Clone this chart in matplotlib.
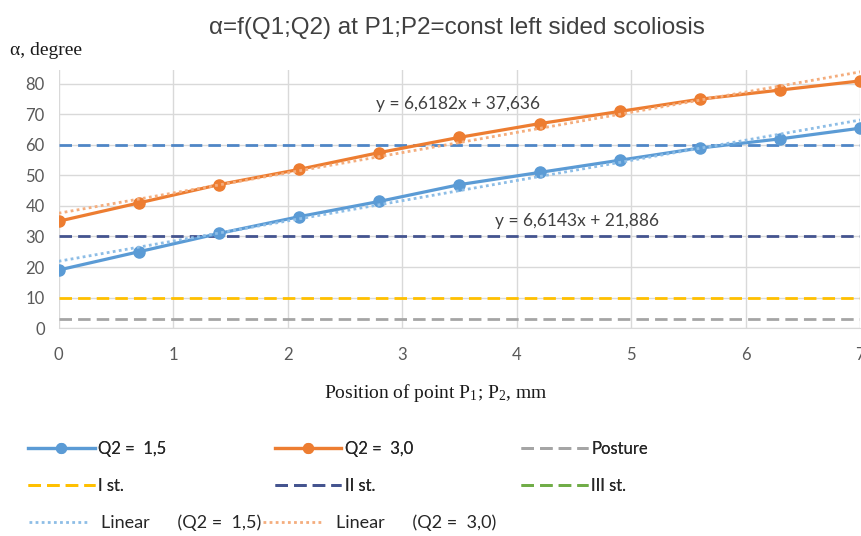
import numpy as np
import matplotlib
matplotlib.use("Agg")
import matplotlib.pyplot as plt
from matplotlib.lines import Line2D

plt.rcParams['mathtext.fontset'] = 'custom'
plt.rcParams['mathtext.rm'] = 'Liberation Serif'
plt.rcParams['mathtext.it'] = 'Liberation Serif'

# data
pos = [0, 0.7, 1.4, 2.1, 2.8, 3.5, 4.2, 4.9, 5.6, 6.3, 7.0]
alpha_q15 = [19, 25, 31, 36.5, 41.5, 47, 51, 55, 59, 62, 65.5]
alpha_q30 = [35, 41, 47, 52, 57.5, 62.5, 67, 71, 75, 78, 81]
fit_q15 = (6.6143, 21.886)
fit_q30 = (6.6182, 37.636)
posture = 3
st1 = 10
st2 = 30
st3 = 60

blue = '#5b9bd5'
orange = '#ed7d31'
tick_font = 'Lato'

fig = plt.figure(figsize=(8.62, 5.36), dpi=100)
ax = fig.add_axes([0.068, 0.388, 0.93, 0.481])

dash = (0, (4.5, 2.2))
ax.axhline(posture, color='#a5a5a5', lw=2, ls=dash, zorder=2)
ax.axhline(st1, color='#ffc000', lw=2, ls=dash, zorder=2)
ax.axhline(st2, color='#44548f', lw=2, ls=dash, zorder=2)
ax.axhline(st3, color='#4f86c6', lw=2, ls=dash, zorder=2)

# trend lines from the equations shown on the chart
xs = np.array([pos[0], pos[-1]])
ax.plot(xs, fit_q15[0] * xs + fit_q15[1], color='#8dbde6', lw=2, ls=(0, (1, 1.2)), zorder=4)
ax.plot(xs, fit_q30[0] * xs + fit_q30[1], color='#f4ad7d', lw=2, ls=(0, (1, 1.2)), zorder=4)

ax.plot(pos, alpha_q15, color=blue, lw=2.3, marker='o', ms=8, zorder=3)
ax.plot(pos, alpha_q30, color=orange, lw=2.3, marker='o', ms=8, zorder=3)

ax.text(3.49, 73.4, 'y = 6,6182x + 37,636', ha='center', va='center',
        fontsize=12.5, color='#404040', family=tick_font)
ax.text(4.53, 35.2, 'y = 6,6143x + 21,886', ha='center', va='center',
        fontsize=12.5, color='#404040', family=tick_font)

ax.set_xlim(0, 7)
ax.set_ylim(0, 84.5)
ax.set_xticks(range(8))
ax.set_yticks(range(0, 81, 10))
ax.grid(True, color='#d9d9d9', lw=1)
ax.set_axisbelow(True)
for s in ['top', 'right', 'left']:
    ax.spines[s].set_visible(False)
ax.spines['bottom'].set_color('#d9d9d9')
ax.tick_params(length=0, labelsize=12, labelcolor='#595959', pad=14)
ax.tick_params(axis='y', pad=10)
for lab in ax.get_xticklabels() + ax.get_yticklabels():
    lab.set_family(tick_font)

fig.text(0.53, 0.947, 'α=f(Q1;Q2) at P1;P2=const left sided scoliosis', ha='center',
         va='center', fontsize=17.5, color='#404040', family='Liberation Sans')
fig.text(0.012, 0.905, 'α, degree', ha='left', va='center', fontsize=14,
         family='Liberation Serif', color='#1a1a1a')
fig.text(0.506, 0.266, 'Position of point P$_1$; P$_2$, mm', ha='center', va='center',
         fontsize=14, family='Liberation Serif', color='#1a1a1a')

h = [
    Line2D([], [], color=blue, lw=2.3, marker='o', ms=7),
    Line2D([], [], color=orange, lw=2.3, marker='o', ms=7),
    Line2D([], [], color='#a5a5a5', lw=2, ls=dash),
    Line2D([], [], color='#ffc000', lw=2, ls=dash),
    Line2D([], [], color='#44548f', lw=2, ls=dash),
    Line2D([], [], color='#70ad47', lw=2, ls=dash),
]
labels = ['Q2 =  1,5', 'Q2 =  3,0', 'Posture', 'I st.', 'II st.', 'III st.']
order = [0, 3, 1, 4, 2, 5]
leg1 = fig.legend([h[i] for i in order], [labels[i] for i in order], ncol=3,
                  loc='upper left', bbox_to_anchor=(0.015, 0.205), frameon=False,
                  handlelength=4, columnspacing=6.5, labelspacing=1.25, handletextpad=0.2,
                  prop={'family': tick_font, 'size': 12})
for t in leg1.get_texts():
    t.set_color('#262626')

h2 = [Line2D([], [], color='#8dbde6', lw=2, ls=(0, (1, 1.2))),
      Line2D([], [], color='#f4ad7d', lw=2, ls=(0, (1, 1.2)))]
leg2 = fig.legend(h2, ['Linear      (Q2 =  1,5)', 'Linear      (Q2 =  3,0)'], ncol=2,
                  loc='upper left', bbox_to_anchor=(0.015, 0.07), frameon=False,
                  handlelength=3.2, columnspacing=0.1, handletextpad=0.8,
                  prop={'family': tick_font, 'size': 13})
for t in leg2.get_texts():
    t.set_color('#262626')
fig.add_artist(leg1)

fig.savefig('out.png', dpi=100)
